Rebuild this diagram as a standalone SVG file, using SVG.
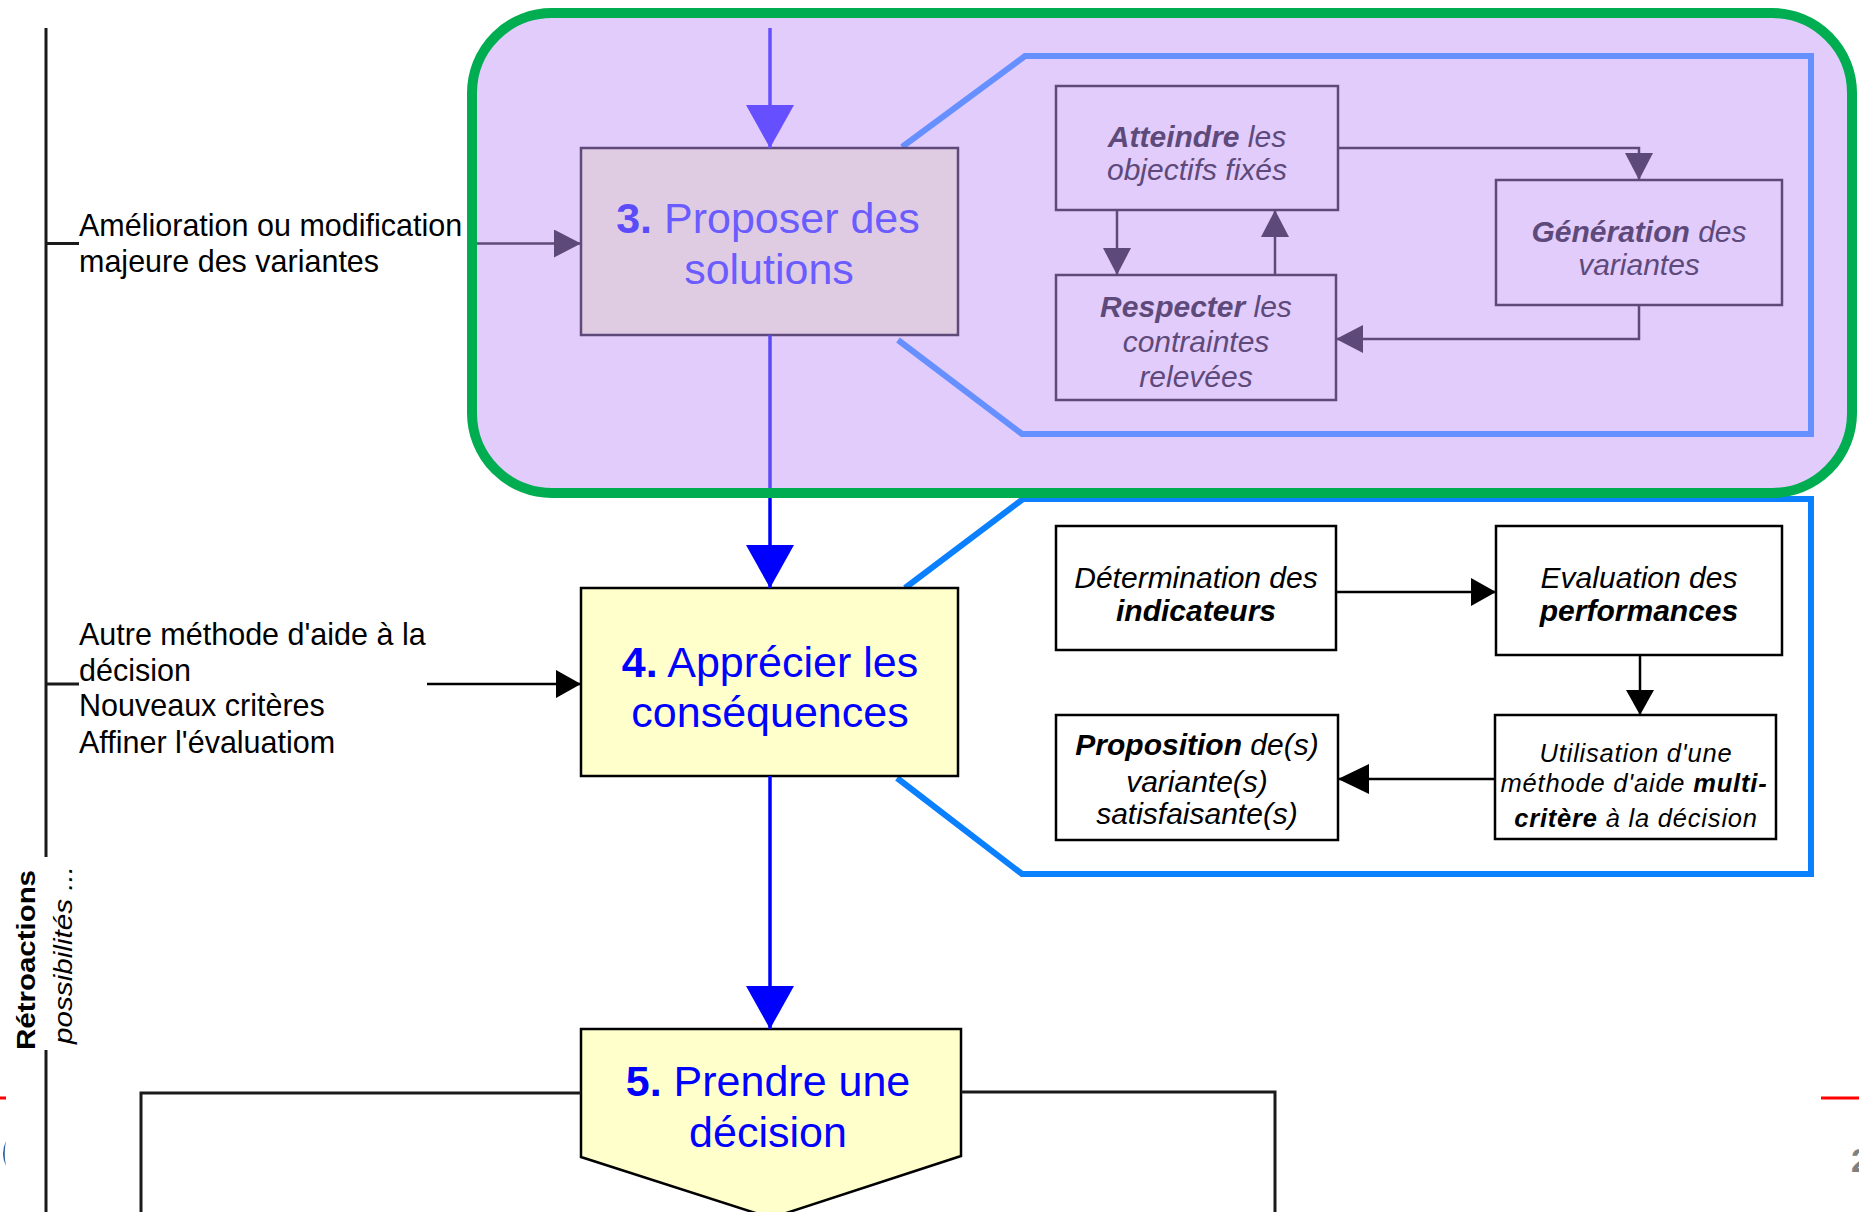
<svg xmlns="http://www.w3.org/2000/svg" width="1859" height="1212" viewBox="0 0 1859 1212">
<style>
text { font-family: 'Liberation Sans', Arial, Helvetica, sans-serif; }
.lbl { font-size: 30.5px; fill: #000; }
.main3 { font-size: 43px; fill: #6B5CFF; text-anchor: middle; }
.main { font-size: 43px; fill: #0000FF; text-anchor: middle; }
.in3 { font-size: 30px; fill: #5E4A7A; font-style: italic; text-anchor: middle; }
.in4 { font-size: 30px; fill: #000; font-style: italic; text-anchor: middle; }
.sm4 { font-size: 25.5px; fill: #000; font-style: italic; text-anchor: middle; letter-spacing: 0.8px; }
.b { font-weight: bold; }
.box3 { fill: #E2CCFC; stroke: #5E4A7A; stroke-width: 2.5; }
.box4 { fill: #FFFFFF; stroke: #000; stroke-width: 2.5; }
.ln { fill: none; stroke: #1A1A1A; stroke-width: 3; }
.lnp { fill: none; stroke: #5E4A7A; stroke-width: 2.5; }
.lnk { fill: none; stroke: #000; stroke-width: 2.5; }
</style>
<defs>
<marker id="ahTop" markerUnits="userSpaceOnUse" viewBox="0 0 43 48" markerWidth="43" markerHeight="48" refX="43" refY="24" orient="auto"><path d="M0,0 L43,24 L0,48 z" fill="#654FFF"/></marker>
<marker id="ahBlue" markerUnits="userSpaceOnUse" viewBox="0 0 43 48" markerWidth="43" markerHeight="48" refX="43" refY="24" orient="auto"><path d="M0,0 L43,24 L0,48 z" fill="#0000FF"/></marker>
<marker id="ahPur" markerUnits="userSpaceOnUse" viewBox="0 0 27 28" markerWidth="27" markerHeight="28" refX="27" refY="14" orient="auto"><path d="M0,0 L27,14 L0,28 z" fill="#5E4A7A"/></marker>
<marker id="ahBlk" markerUnits="userSpaceOnUse" viewBox="0 0 25 28" markerWidth="25" markerHeight="28" refX="25" refY="14" orient="auto"><path d="M0,0 L25,14 L0,28 z" fill="#000"/></marker>
<marker id="ahBlkL" markerUnits="userSpaceOnUse" viewBox="0 0 31 30" markerWidth="31" markerHeight="30" refX="31" refY="15" orient="auto"><path d="M0,0 L31,15 L0,30 z" fill="#000"/></marker>
</defs>

<rect x="0" y="0" width="1859" height="1212" fill="#FFFFFF"/>

<g id="feedback">
  <path class="ln" d="M46,28 V857 M46,1050 V1212 M46,243.5 H79 M46,684 H79"/>
  <text class="lbl" x="79" y="236">Amélioration ou modification</text>
  <text class="lbl" x="79" y="272">majeure des variantes</text>
  <text class="lbl" x="79" y="645">Autre méthode d'aide à la</text>
  <text class="lbl" x="79" y="681">décision</text>
  <text class="lbl" x="79" y="716">Nouveaux critères</text>
  <text class="lbl" x="79" y="753">Affiner l'évaluatiom</text>
  <text transform="translate(35,1050) rotate(-90)" x="0" y="0" font-size="26" font-weight="bold" fill="#000" textLength="180" lengthAdjust="spacingAndGlyphs">Rétroactions</text>
  <text transform="translate(72,1044) rotate(-90)" x="0" y="0" font-size="25" font-style="italic" fill="#000" textLength="178" lengthAdjust="spacingAndGlyphs">possibilités ...</text>
</g>

<g id="detail-4">
  <path d="M905,588 L1023,499 H1811 V874 H1022 L897,778" fill="none" stroke="#0A80FF" stroke-width="6"/>
</g>

<g id="node-determination">
  <rect class="box4" x="1056" y="526" width="280" height="124"/>
  <text class="in4" x="1196" y="588">Détermination des</text>
  <text class="in4 b" x="1196" y="621">indicateurs</text>
</g>
<g id="node-evaluation">
  <rect class="box4" x="1496" y="526" width="286" height="129"/>
  <text class="in4" x="1639" y="588">Evaluation des</text>
  <text class="in4 b" x="1639" y="621">performances</text>
</g>
<g id="node-utilisation">
  <rect class="box4" x="1495" y="715" width="281" height="124"/>
  <text class="sm4" x="1636" y="762">Utilisation d'une</text>
  <text class="sm4" x="1634" y="792">méthode d'aide <tspan class="b">multi-</tspan></text>
  <text class="sm4" x="1636" y="827"><tspan class="b">critère</tspan> à la décision</text>
</g>
<g id="node-proposition">
  <rect class="box4" x="1056" y="715" width="282" height="125"/>
  <text class="in4" x="1197" y="755"><tspan class="b">Proposition</tspan> de(s)</text>
  <text class="in4" x="1197" y="792">variante(s)</text>
  <text class="in4" x="1197" y="824">satisfaisante(s)</text>
</g>

<g id="node-4">
  <rect x="581" y="588" width="377" height="188" fill="#FFFFCC" stroke="#000" stroke-width="2.5"/>
  <text class="main" x="770" y="677"><tspan class="b">4.</tspan> Apprécier les</text>
  <text class="main" x="770" y="727">conséquences</text>
</g>

<g id="node-5">
  <path d="M581,1029 H961 V1156 L771,1218 L581,1157 Z" fill="#FFFFCC" stroke="#000" stroke-width="2.5"/>
  <text class="main" x="768" y="1096"><tspan class="b">5.</tspan> Prendre une</text>
  <text class="main" x="768" y="1147">décision</text>
</g>

<g id="highlight-3">
  <rect x="472" y="13" width="1380" height="480" rx="80" ry="80" fill="#E2CCFC" stroke="#00AD50" stroke-width="10"/>
</g>

<g id="detail-3">
  <path d="M902,147 L1025,56 H1811 V434 H1022 L898,340" fill="none" stroke="#6690FF" stroke-width="6"/>
</g>

<g id="node-3">
  <rect x="581" y="148" width="377" height="187" fill="#E0CCE2" stroke="#5E4A7A" stroke-width="2.5"/>
  <text class="main3" x="768" y="233"><tspan class="b" fill="#5B4BF8">3.</tspan> Proposer des</text>
  <text class="main3" x="769" y="284">solutions</text>
</g>

<g id="node-atteindre">
  <rect class="box3" x="1056" y="86" width="282" height="124"/>
  <text class="in3" x="1197" y="147"><tspan class="b">Atteindre</tspan> les</text>
  <text class="in3" x="1197" y="180">objectifs fixés</text>
</g>
<g id="node-generation">
  <rect class="box3" x="1496" y="180" width="286" height="125"/>
  <text class="in3" x="1639" y="242"><tspan class="b">Génération</tspan> des</text>
  <text class="in3" x="1639" y="275">variantes</text>
</g>
<g id="node-respecter">
  <rect class="box3" x="1056" y="275" width="280" height="125"/>
  <text class="in3" x="1196" y="317"><tspan class="b">Respecter</tspan> les</text>
  <text class="in3" x="1196" y="352">contraintes</text>
  <text class="in3" x="1196" y="387">relevées</text>
</g>

<g id="connectors">
  <path d="M770,28 V148" fill="none" stroke="#654FFF" stroke-width="3.5" marker-end="url(#ahTop)"/>
  <path d="M770,335 V488" fill="none" stroke="#5A4BF7" stroke-width="3.5"/>
  <path d="M770,498 V588" fill="none" stroke="#0000FF" stroke-width="3.5" marker-end="url(#ahBlue)"/>
  <path d="M770,776 V1029" fill="none" stroke="#0000FF" stroke-width="3.5" marker-end="url(#ahBlue)"/>
  <path class="lnp" d="M477,243.5 H581" marker-end="url(#ahPur)"/>
  <path class="lnk" d="M427,684 H581" stroke-width="3" marker-end="url(#ahBlk)"/>
  <path class="ln" d="M581,1093 H141 V1212"/>
  <path class="ln" d="M961,1092 H1275 V1212"/>
  <path class="lnp" d="M1338,148 H1639 V180" marker-end="url(#ahPur)"/>
  <path class="lnp" d="M1639,305 V339 H1336" marker-end="url(#ahPur)"/>
  <path class="lnp" d="M1117,210 V275" marker-end="url(#ahPur)"/>
  <path class="lnp" d="M1275,275 V210" marker-end="url(#ahPur)"/>
  <path class="lnk" d="M1336,592 H1496" marker-end="url(#ahBlk)"/>
  <path class="lnk" d="M1640,655 V715" marker-end="url(#ahBlk)"/>
  <path class="lnk" d="M1495,779 H1338" marker-end="url(#ahBlkL)"/>
</g>

<g id="page-edge">
  <path d="M0,1098 H6 M1821,1098 H1859" stroke="#FF0000" stroke-width="3" fill="none"/>
  <path d="M6,1141 Q0,1153.5 6,1166 Q3.5,1153.5 6,1141 Z" fill="#2F5FA8"/>
  <text x="1851" y="1172" font-size="34" font-weight="bold" fill="#808080">2</text>
</g>
</svg>
